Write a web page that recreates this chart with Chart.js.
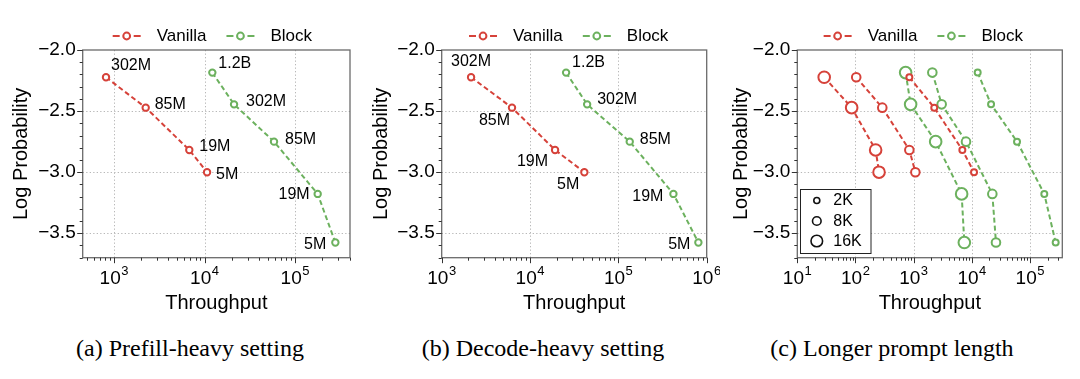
<!DOCTYPE html>
<html>
<head>
<meta charset="utf-8">
<script src="https://cdn.jsdelivr.net/npm/chart.js@4.4.1/dist/chart.umd.min.js"></script>
<style>
  html, body { margin: 0; padding: 0; background: #fff; }
  #wrap { position: relative; width: 1080px; height: 379px; overflow: hidden; background: #fff; }
  canvas { position: absolute; top: 0; }
  .cap { position: absolute; top: 336px; width: 320px; text-align: center;
         font-family: "Liberation Serif", "Times New Roman", serif; font-size: 24px; line-height: 24px; color: #000; white-space: nowrap; }
</style>
</head>
<body>
<div id="wrap">
  <canvas id="ca" width="360" height="320" style="left:0px"></canvas>
  <canvas id="cb" width="360" height="320" style="left:360px"></canvas>
  <canvas id="cc" width="360" height="320" style="left:720px"></canvas>
  <div class="cap" id="capA" style="left:30px">(a) Prefill-heavy setting</div>
  <div class="cap" id="capB" style="left:383px">(b) Decode-heavy setting</div>
  <div class="cap" id="capC" style="left:732px">(c) Longer prompt length</div>
</div>
<script>
// ---------------- DATA ----------------
const seriesNames = ['Vanilla', 'Block'];
const sizesVanilla = ['302M', '85M', '19M', '5M'];
const sizesBlock = ['1.2B', '302M', '85M', '19M', '5M'];
const logProbVanilla = [-2.223, -2.472, -2.818, -3.0];
const logProbBlock = [-2.185, -2.445, -2.75, -3.178, -3.576];

// (a) Prefill-heavy throughput
const prefillVanilla = [816, 2240, 6790, 10670];
const prefillBlock = [12200, 21200, 58600, 178000, 279000];
// (b) Decode-heavy throughput
const decodeVanilla = [2150, 6250, 19200, 41200];
const decodeBlock = [25600, 44300, 134500, 420000, 805000];
// (c) Longer prompt length throughput
const promptLengths = ['2K', '8K', '16K'];
const longVanilla2K = [843, 2260, 6870, 10900];
const longVanilla8K = [103, 289, 843, 1070];
const longVanilla16K = [29, 86, 222, 254];
const longBlock2K = [12600, 21400, 59800, 176000, 276000];
const longBlock8K = [2094, 3030, 7940, 22500, 26000];
const longBlock16K = [728, 887, 2390, 6680, 7430];

// tick labels
const yTicks = [-3.5, -3.0, -2.5, -2.0];
const xTicksA = [1e3, 1e4, 1e5];
const xTicksB = [1e3, 1e4, 1e5, 1e6];
const xTicksC = [1e1, 1e2, 1e3, 1e4, 1e5];

// ---------------- STYLE ----------------
const FONT = '"Liberation Sans", Arial, Helvetica, sans-serif';
const RED = 'rgb(214,66,58)';
const GREEN = 'rgb(108,177,94)';
const TEXT = '#000';
const promptRadius = [3, 4.3, 5.8];

// label offsets [dx, dy, align] relative to point centre
const labPosA = {
  v: [[5, -12, 'left'], [9, -3, 'left'], [10, -3, 'left'], [9, 2, 'left']],
  b: [[6, -9, 'left'], [12, -3, 'left'], [11, -2, 'left'], [-8, 1, 'right'], [-9, 2, 'right']]
};
const labPosB = {
  v: [[0, -16, 'center'], [-2, 13, 'right'], [-7, 12, 'right'], [-5, 12, 'right']],
  b: [[6, -10, 'left'], [10, -5, 'left'], [10, -2, 'left'], [-10, 3, 'right'], [-8, 2, 'right']]
};

const panelCfg = {
  ca: { left: 82.7, right: 350, bottom: 257.7, xMin: 451, xMax: 405000, xTicks: xTicksA, legendShift: -4, labPos: labPosA },
  cb: { left: 81.7, right: 346.7, bottom: 257.7, xMin: 1e3, xMax: 1e6, xTicks: xTicksB, legendShift: -5.5, labPos: labPosB },
  cc: { left: 77.3, right: 342.3, bottom: 257.7, xMin: 10, xMax: 358900, xTicks: xTicksC, legendShift: -6.5, sizeLegend: true }
};

function pts(xs, ys) { return xs.map((v, i) => ({ x: v, y: ys[i] })); }

function ds(label, color, data, radius, labels) {
  return {
    label, data, labelsText: labels,
    borderColor: color, backgroundColor: color,
    borderWidth: 2, borderDash: [5, 3], tension: 0,
    pointRadius: radius, pointBorderWidth: 2,
    pointBackgroundColor: '#fff', pointBorderColor: color, pointStyle: 'circle'
  };
}

const deco = {
  id: 'deco',
  beforeDatasetsDraw(chart) {
    const cfg = panelCfg[chart.canvas.id];
    const { ctx, chartArea: a } = chart;
    const x = chart.scales.x, y = chart.scales.y;
    ctx.save();
    // dotted grid at major ticks
    ctx.strokeStyle = '#b8b8b8'; ctx.lineWidth = 1; ctx.setLineDash([1.3, 2.2]);
    cfg.xTicks.forEach(v => {
      const px = Math.round(x.getPixelForValue(v)) + 0.5;
      if (px > a.left + 2 && px < a.right - 2) {
        ctx.beginPath(); ctx.moveTo(px, a.top); ctx.lineTo(px, a.bottom); ctx.stroke();
      }
    });
    yTicks.forEach(v => {
      const py = Math.round(y.getPixelForValue(v)) + 0.5;
      if (py > a.top + 2 && py < a.bottom - 2) {
        ctx.beginPath(); ctx.moveTo(a.left, py); ctx.lineTo(a.right, py); ctx.stroke();
      }
    });
    ctx.setLineDash([]);
    // frame
    ctx.strokeStyle = '#6a6a6a'; ctx.lineWidth = 1.3;
    ctx.strokeRect(a.left, a.top, a.right - a.left, a.bottom - a.top);
    // ticks
    ctx.strokeStyle = '#333'; ctx.lineWidth = 1;
    const d0 = Math.floor(Math.log10(cfg.xMin)), d1 = Math.ceil(Math.log10(cfg.xMax));
    for (let d = d0; d <= d1; d++) {
      for (let k = 1; k <= 9; k++) {
        const v = k * Math.pow(10, d);
        if (v < cfg.xMin * 0.999 || v > cfg.xMax * 1.001) continue;
        const px = Math.round(x.getPixelForValue(v)) + 0.5;
        const len = k === 1 ? 5.5 : 3;
        ctx.beginPath(); ctx.moveTo(px, a.bottom); ctx.lineTo(px, a.bottom + len); ctx.stroke();
      }
    }
    for (let i = -37; i <= -20; i++) {
      const v = i / 10;
      const py = Math.round(y.getPixelForValue(v)) + 0.5;
      const len = (i % 5 === 0) ? 5.5 : 3;
      ctx.beginPath(); ctx.moveTo(a.left, py); ctx.lineTo(a.left - len, py); ctx.stroke();
    }
    ctx.restore();
  },
  afterDraw(chart) {
    const cfg = panelCfg[chart.canvas.id];
    const { ctx, chartArea: a } = chart;
    const x = chart.scales.x;
    ctx.save();
    // x tick labels 10^n
    cfg.xTicks.forEach(v => {
      const px = x.getPixelForValue(v);
      const exp = String(Math.round(Math.log10(v)));
      ctx.font = '19px ' + FONT; const w1 = ctx.measureText('10').width;
      ctx.font = '13px ' + FONT; const w2 = ctx.measureText(exp).width;
      const start = px - (w1 + w2 + 0.5) / 2;
      ctx.fillStyle = TEXT; ctx.textAlign = 'left'; ctx.textBaseline = 'alphabetic';
      ctx.font = '19px ' + FONT; ctx.fillText('10', start, a.bottom + 25.8);
      ctx.font = '13px ' + FONT; ctx.fillText(exp, start + w1 + 0.5, a.bottom + 17);
    });
    // data labels
    if (cfg.labPos) {
      ctx.font = '16px ' + FONT; ctx.fillStyle = TEXT; ctx.textBaseline = 'middle';
      chart.data.datasets.forEach((d, di) => {
        const meta = chart.getDatasetMeta(di);
        const pos = di === 0 ? cfg.labPos.v : cfg.labPos.b;
        meta.data.forEach((el, i) => {
          const p = pos[i];
          ctx.textAlign = p[2];
          ctx.fillText(d.labelsText[i], el.x + p[0], el.y + p[1]);
        });
      });
    }
    // top legend
    ctx.font = '17px ' + FONT;
    const items = [{ label: seriesNames[0], color: RED }, { label: seriesNames[1], color: GREEN }];
    const sample = 28, gapT = 16, gapI = 20;
    let total = 0;
    items.forEach((it, i) => { it.w = ctx.measureText(it.label).width; total += sample + gapT + it.w + (i ? gapI : 0); });
    let x0 = (a.left + a.right) / 2 + cfg.legendShift - total / 2;
    const yc = 36;
    items.forEach(it => {
      ctx.strokeStyle = it.color; ctx.lineWidth = 2;
      ctx.beginPath(); ctx.moveTo(x0, yc); ctx.lineTo(x0 + 7, yc); ctx.stroke();
      ctx.beginPath(); ctx.moveTo(x0 + 21, yc); ctx.lineTo(x0 + 28, yc); ctx.stroke();
      ctx.beginPath(); ctx.arc(x0 + 14, yc, 3.4, 0, 2 * Math.PI);
      ctx.fillStyle = '#fff'; ctx.fill(); ctx.stroke();
      ctx.fillStyle = TEXT; ctx.textAlign = 'left'; ctx.textBaseline = 'middle';
      ctx.fillText(it.label, x0 + sample + gapT, yc + 0.5);
      x0 += sample + gapT + it.w + gapI;
    });
    // marker size legend (panel c)
    if (cfg.sizeLegend) {
      const bx = a.left + 3, by = 188.5, bw = 70.5, bh = 64;
      ctx.fillStyle = '#fff'; ctx.fillRect(bx, by, bw, bh);
      ctx.strokeStyle = '#222'; ctx.lineWidth = 1;
      ctx.strokeRect(Math.round(bx) + 0.5, Math.round(by) + 0.5, bw, bh);
      const rowsY = [200.5, 221, 241];
      ctx.font = '16px ' + FONT; ctx.textAlign = 'left'; ctx.textBaseline = 'middle';
      promptLengths.forEach((t, i) => {
        ctx.beginPath(); ctx.arc(bx + 16.5, rowsY[i], promptRadius[i], 0, 2 * Math.PI);
        ctx.strokeStyle = '#111'; ctx.lineWidth = 1.6; ctx.stroke();
        ctx.fillStyle = TEXT; ctx.fillText(t, bx + 33, rowsY[i] + 0.5);
      });
    }
    ctx.restore();
  }
};

function makeChart(id, datasets) {
  const cfg = panelCfg[id];
  const el = document.getElementById(id);
  return new Chart(el, {
    type: 'line',
    data: { datasets },
    plugins: [deco],
    options: {
      responsive: false, animation: false, devicePixelRatio: 1, events: [],
      layout: { padding: { left: 0, top: 50, right: 360 - cfg.right, bottom: 0 } },
      plugins: { legend: { display: false }, tooltip: { enabled: false } },
      scales: {
        x: {
          type: 'logarithmic', position: 'bottom', min: cfg.xMin, max: cfg.xMax,
          afterBuildTicks: s => { s.ticks = cfg.xTicks.map(v => ({ value: v })); },
          afterFit: s => { s.height = 320 - cfg.bottom; },
          ticks: { display: false },
          grid: { display: false, drawTicks: false },
          border: { display: false },
          title: { display: true, text: 'Throughput', color: TEXT, font: { family: FONT, size: 20 }, padding: { top: 0, bottom: 5 } }
        },
        y: {
          type: 'linear', position: 'left', min: -3.7, max: -2.0,
          afterBuildTicks: s => { s.ticks = yTicks.map(v => ({ value: v })); },
          afterFit: s => { s.width = cfg.left; },
          ticks: {
            color: TEXT, font: { family: FONT, size: 19 }, padding: 7,
            callback: v => (v < 0 ? '\u2212' : '') + Math.abs(v).toFixed(1)
          },
          grid: { display: false, drawTicks: false },
          border: { display: false },
          title: { display: true, text: 'Log Probability', color: TEXT, font: { family: FONT, size: 20 }, padding: { top: 9, bottom: 0 } }
        }
      }
    }
  });
}

makeChart('ca', [
  ds(seriesNames[0], RED, pts(prefillVanilla, logProbVanilla), 3.2, sizesVanilla),
  ds(seriesNames[1], GREEN, pts(prefillBlock, logProbBlock), 3.2, sizesBlock)
]);
makeChart('cb', [
  ds(seriesNames[0], RED, pts(decodeVanilla, logProbVanilla), 3.2, sizesVanilla),
  ds(seriesNames[1], GREEN, pts(decodeBlock, logProbBlock), 3.2, sizesBlock)
]);
makeChart('cc', [
  ds(seriesNames[0] + ' 2K', RED, pts(longVanilla2K, logProbVanilla), promptRadius[0], sizesVanilla),
  ds(seriesNames[0] + ' 8K', RED, pts(longVanilla8K, logProbVanilla), promptRadius[1], sizesVanilla),
  ds(seriesNames[0] + ' 16K', RED, pts(longVanilla16K, logProbVanilla), promptRadius[2], sizesVanilla),
  ds(seriesNames[1] + ' 2K', GREEN, pts(longBlock2K, logProbBlock), promptRadius[0], sizesBlock),
  ds(seriesNames[1] + ' 8K', GREEN, pts(longBlock8K, logProbBlock), promptRadius[1], sizesBlock),
  ds(seriesNames[1] + ' 16K', GREEN, pts(longBlock16K, logProbBlock), promptRadius[2], sizesBlock)
]);
</script>
</body>
</html>
